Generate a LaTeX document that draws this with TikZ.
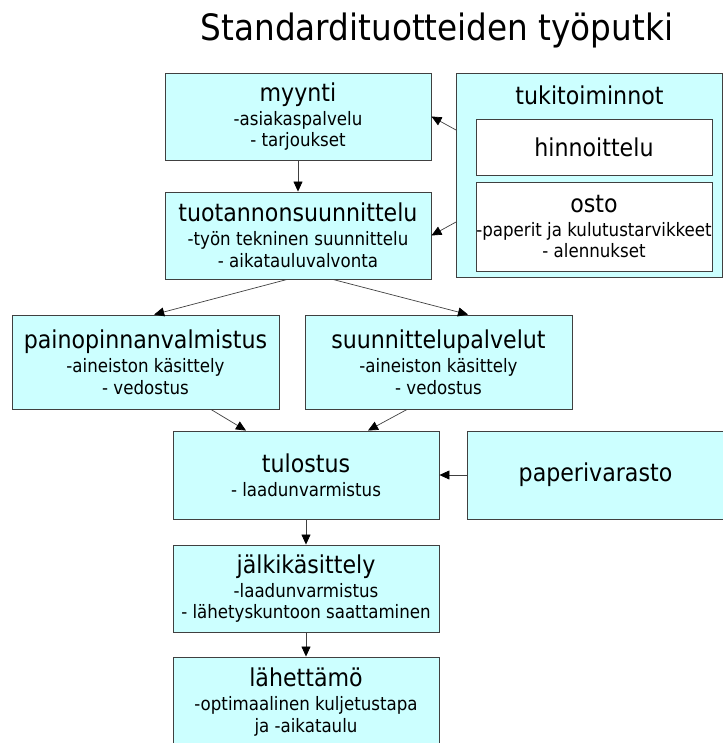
\documentclass[tikz,border=0pt]{standalone}
\usepackage{fontspec}
\setmainfont{DejaVu Sans Condensed}
\usepackage{tikz}
\usetikzlibrary{arrows.meta,positioning}
\definecolor{boxfill}{HTML}{CCFFFF}
\definecolor{boxline}{HTML}{404040}
\newcommand{\hd}{\fontsize{21}{23}\selectfont}
\newcommand{\sub}{\fontsize{15.8}{18.5}\selectfont}

\begin{document}
\begin{tikzpicture}[x=0.03cm, y=-0.03cm,
  box/.style={draw=boxline, fill=boxfill, line width=0.8pt, align=center, font=\sub,
    minimum width=7.98cm, minimum height=2.61cm, inner sep=0pt},
  inbox/.style={draw=boxline, fill=white, line width=0.8pt, align=center, font=\sub,
    minimum width=7.08cm, inner sep=0pt},
  conn/.style={draw=boxline, line width=0.6pt, -{Triangle[length=0.3cm, width=0.27cm, color=black]}}]
  \useasboundingbox (0,0) rectangle (723,743);

  \node (title) at (437,30) {\fontsize{31}{36}\selectfont Standardituotteiden työputki};

  % ylarivi
  \node[box] (myynti) at (298,116.5) {{\hd myynti}\\[2pt]-asiakaspalvelu\\- tarjoukset};
  \node[box] (tuot) at (298,235.5) {{\hd tuotannonsuunnittelu}\\[2pt]-työn tekninen suunnittelu\\- aikatauluvalvonta};

  % tukitoiminnot
  \node[box, minimum height=6.12cm] (tuki) at (589.5,175) {};
  \node[anchor=north, font=\hd] (tukiotsikko) at (tuki.north) [yshift=-0.27cm] {tukitoiminnot};
  \node[inbox, minimum height=1.68cm] (hinn) at (594,147) {\hd hinnoittelu};
  \node[inbox, minimum height=2.67cm] (osto) at (594,226.5) {{\hd osto}\\[2pt]-paperit ja kulutustarvikkeet\\- alennukset};

  % keskirivi
  \node[box, minimum width=8.01cm, minimum height=2.82cm] (paino) at (145.5,362) {{\hd painopinnanvalmistus}\\[2pt]-aineiston käsittely\\- vedostus};
  \node[box, minimum width=8.01cm, minimum height=2.82cm] (suun) at (438.5,362) {{\hd suunnittelupalvelut}\\[2pt]-aineiston käsittely\\- vedostus};

  \node[box, minimum height=2.64cm] (tulo) at (306,475) {{\hd tulostus}\\[2pt]- laadunvarmistus};
  \node[box, minimum width=7.71cm, minimum height=2.64cm] (paperi) at (595.5,475) {\hd paperivarasto};

  \node[box] (jalki) at (306,588.5) {{\hd jälkikäsittely}\\[2pt]-laadunvarmistus\\- lähetyskuntoon saattaminen};
  \node[box, minimum height=2.7cm] (lahet) at (306,702) {{\hd lähettämö}\\[2pt]-optimaalinen kuljetustapa\\ja -aikataulu};

  % nuolet
  \draw[conn] (myynti) -- (tuot);
  \draw[conn] ([yshift=1.35cm]tuki.west) -- (myynti.east);
  \draw[conn] ([yshift=-1.41cm]tuki.west) -- (tuot.east);
  \draw[conn] ([xshift=-0.33cm]tuot.south) -- ([xshift=0.26cm]paino.north);
  \draw[conn] ([xshift=1.05cm]tuot.south) -- ([xshift=0.885cm]suun.north);
  \draw[conn] ([xshift=1.965cm]paino.south) -- ([xshift=-1.8cm]tulo.north);
  \draw[conn] ([xshift=-0.945cm]suun.south) -- ([xshift=1.86cm]tulo.north);
  \draw[conn] (paperi) -- (tulo);
  \draw[conn] (tulo) -- (jalki);
  \draw[conn] (jalki) -- (lahet);
\end{tikzpicture}
\end{document}
